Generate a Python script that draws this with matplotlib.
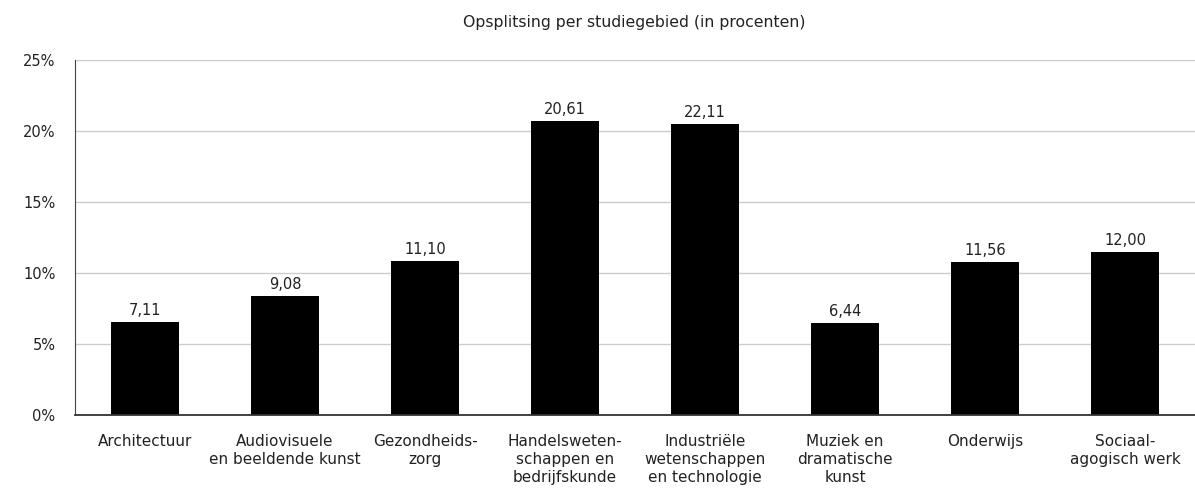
import matplotlib
matplotlib.use("Agg")
from matplotlib import pyplot as plt
from matplotlib.ticker import FuncFormatter

categories = [
    "Architectuur",
    "Audiovisuele\nen beeldende kunst",
    "Gezondheids-\nzorg",
    "Handelsweten-\nschappen en\nbedrijfskunde",
    "Industriële\nwetenschappen\nen technologie",
    "Muziek en\ndramatische\nkunst",
    "Onderwijs",
    "Sociaal-\nagogisch werk",
]
# bar heights as drawn in the picture (percent)
bar_values = [6.55, 8.4, 10.85, 20.7, 20.5, 6.5, 10.8, 11.5]
# labels as printed above the bars
bar_labels = ["7,11", "9,08", "11,10", "20,61", "22,11", "6,44", "11,56", "12,00"]
y_ticks = [0, 5, 10, 15, 20, 25]

plt.rcParams["font.family"] = ["DejaVu Sans"]

fig = plt.figure(figsize=(11.95, 4.91), dpi=100)
ax = fig.add_axes([0.0628, 0.1548, 0.9372, 0.7232])

x = range(len(categories))
ax.bar(x, bar_values, width=0.49, color="black", zorder=3)
for i, (v, lbl) in enumerate(zip(bar_values, bar_labels)):
    ax.text(i, v + 0.25, lbl, ha="center", va="bottom", fontsize=10.5, color="#222222")

ax.set_xlim(-0.5, len(categories) - 0.5)
ax.set_ylim(0, 25)
ax.set_yticks(y_ticks)
ax.yaxis.set_major_formatter(FuncFormatter(lambda v, _: f"{v:.0f}%"))
ax.set_xticks(list(x))
ax.set_xticklabels(categories, fontsize=11, color="#222222", linespacing=1.22, va="top")
ax.tick_params(axis="x", length=0, pad=14)
ax.tick_params(axis="y", length=0, pad=14, labelsize=10.5, labelcolor="#222222")

ax.grid(axis="y", color="#cccccc", linewidth=1, zorder=0)
for side in ["top", "right"]:
    ax.spines[side].set_visible(False)
ax.spines["left"].set_color("#444444")
ax.spines["bottom"].set_color("#333333")
ax.spines["bottom"].set_linewidth(1.3)
ax.spines["bottom"].set_zorder(4)

fig.text(0.5305, 0.955, "Opsplitsing per studiegebied (in procenten)",
         ha="center", va="center", fontsize=11.3, color="#222222")

plt.savefig("out.png", dpi=100)
plt.close()
